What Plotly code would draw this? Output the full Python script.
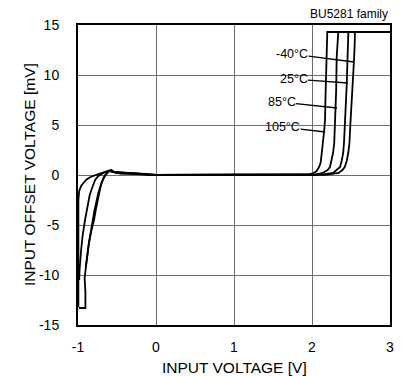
import plotly.graph_objects as go

# ---- data ----
V_105 = [-0.995, -0.995, -0.985, -0.96, -0.93, -0.89, -0.84, -0.78, -0.72, -0.66, -0.6, -0.57, -0.53, -0.45, -0.3, -0.12, -0.1,
         1.85, 1.95, 2.02, 2.06, 2.09, 2.11, 2.125, 2.14, 2.15, 2.16, 2.167, 2.172, 2.18, 2.188, 2.196, 2.196, 3.0]
OFS_105 = [-13.2, -2.5, -1.6, -1.1, -0.8, -0.45, -0.2, 0.0, 0.15, 0.3, 0.45, 0.5, 0.25, 0.15, 0.15, 0.12, 0.0,
           0.0, 0.05, 0.2, 0.4, 0.8, 1.2, 2.2, 3.0, 4.0, 4.8, 5.5, 7.5, 9.5, 11.7, 13.0, 14.3, 14.3]

V_85 = [-0.985, -0.98, -0.96, -0.94, -0.91, -0.88, -0.85, -0.81, -0.78, -0.74, -0.7, -0.65, -0.6, -0.55, 0.0,
        1.9, 2.05, 2.14, 2.2, 2.23, 2.25, 2.27, 2.285, 2.295, 2.3, 2.31, 2.316, 2.325, 2.337, 2.337, 3.0]
OFS_85 = [-10.5, -9.5, -7.5, -6.0, -4.5, -3.2, -2.0, -1.1, -0.5, -0.1, 0.1, 0.3, 0.45, 0.3, 0.0,
          0.0, 0.05, 0.2, 0.5, 0.8, 1.4, 2.2, 3.2, 4.8, 6.0, 8.5, 11.7, 13.0, 13.8, 14.3, 14.3]

V_25 = [-0.99, -0.905, -0.905, -0.915, -0.9, -0.88, -0.86, -0.825, -0.79, -0.74, -0.7, -0.675, -0.62, -0.58, -0.5, 0.0,
        1.95, 2.15, 2.27, 2.32, 2.36, 2.38, 2.4, 2.41, 2.423, 2.43, 2.445, 2.458, 2.466, 2.466, 3.0]
OFS_25 = [-13.3, -13.3, -11.7, -10.3, -9.3, -8.0, -6.8, -5.2, -3.6, -1.8, -0.9, -0.3, 0.3, 0.45, 0.2, 0.0,
          0.0, 0.05, 0.2, 0.5, 0.8, 1.4, 2.2, 3.2, 4.8, 6.5, 9.0, 11.7, 13.5, 14.3, 14.3]

V_M40 = [-0.9, -0.88, -0.86, -0.83, -0.795, -0.77, -0.75, -0.72, -0.7, -0.67, -0.65, -0.6, -0.55, 0.0,
         2.0, 2.2, 2.34, 2.39, 2.42, 2.445, 2.465, 2.48, 2.49, 2.5, 2.515, 2.53, 2.54, 2.548, 2.55, 2.55, 3.0]
OFS_M40 = [-9.2, -8.0, -6.8, -5.6, -4.5, -3.4, -2.5, -1.5, -0.8, -0.3, 0.0, 0.4, 0.3, 0.0,
           0.0, 0.05, 0.2, 0.5, 0.8, 1.4, 2.2, 3.2, 4.8, 6.0, 8.0, 10.0, 11.7, 13.2, 13.8, 14.3, 14.3]

SERIES_NAMES = ["105°C", "85°C", "25°C", "-40°C"]

# label text anchor (data coords) and pointer target on the curve
LABELS = ["-40°C", "25°C", "85°C", "105°C"]
LABEL_X = [1.744, 1.763, 1.609, 1.622]
LABEL_Y = [12.1, 9.6, 7.3, 4.8]
POINT_X = [2.54, 2.46, 2.32, 2.17]
POINT_Y = [11.3, 9.2, 6.7, 4.3]

X_TICKS = [-1, 0, 1, 2, 3]
Y_TICKS = [-15, -10, -5, 0, 5, 10, 15]

X_TITLE = "INPUT VOLTAGE [V]"
Y_TITLE = "INPUT OFFSET VOLTAGE [mV]"
NOTE = "BU5281 family"

FONT = "Liberation Sans, Arial, sans-serif"

fig = go.Figure()
for xs, ys, nm in [(V_105, OFS_105, SERIES_NAMES[0]), (V_85, OFS_85, SERIES_NAMES[1]),
                   (V_25, OFS_25, SERIES_NAMES[2]), (V_M40, OFS_M40, SERIES_NAMES[3])]:
    fig.add_trace(go.Scatter(x=xs, y=ys, mode="lines", name=nm,
                             line=dict(color="black", width=1.8), showlegend=False,
                             cliponaxis=True))

for t, lx, ly, px, py in zip(LABELS, LABEL_X, LABEL_Y, POINT_X, POINT_Y):
    fig.add_annotation(x=px, y=py, ax=lx, ay=ly, axref="x", ayref="y", xref="x", yref="y",
                       text=t, showarrow=True, arrowhead=0, arrowwidth=1.3, arrowcolor="black",
                       font=dict(family=FONT, size=12.5, color="black"), bgcolor="rgba(0,0,0,0)",
                       borderpad=0)

fig.add_annotation(x=1, y=1, xref="paper", yref="paper", xanchor="right", yanchor="bottom",
                   yshift=2, text=NOTE, showarrow=False,
                   font=dict(family=FONT, size=12, color="black"))

# axis titles
fig.add_annotation(x=0.5, y=0, xref="paper", yref="paper", xanchor="center", yanchor="middle",
                   yshift=-42, text=X_TITLE, showarrow=False,
                   font=dict(family=FONT, size=15.5, color="black"))
fig.add_annotation(x=0, y=0.5, xref="paper", yref="paper", xanchor="center", yanchor="middle",
                   xshift=-49, textangle=-90, text=Y_TITLE, showarrow=False,
                   font=dict(family=FONT, size=15.5, color="black"))

fig.update_xaxes(range=[-1, 3], tickvals=X_TICKS, ticktext=[str(v) for v in X_TICKS],
                 showgrid=True, gridcolor="#6e6e6e", gridwidth=1, zeroline=False, automargin=False,
                 showline=True, linecolor="black", linewidth=2, mirror=True,
                 ticks="outside", ticklen=8, tickcolor="rgba(0,0,0,0)",
                 tickfont=dict(family=FONT, size=14, color="black"))
fig.update_yaxes(range=[-15, 15], tickvals=Y_TICKS, ticktext=[str(v) for v in Y_TICKS],
                 showgrid=True, gridcolor="#6e6e6e", gridwidth=1, zeroline=False, automargin=False,
                 showline=True, linecolor="black", linewidth=2, mirror=True,
                 ticks="outside", ticklen=14, tickcolor="rgba(0,0,0,0)",
                 tickfont=dict(family=FONT, size=14, color="black"))

fig.update_layout(width=406, height=376, margin=dict(l=78, r=16, t=25, b=51),
                  plot_bgcolor="white", paper_bgcolor="white")

# remove the page's default 8px body margin so the 406x376 figure fills the window exactly
fig.write_html("out.html", config={"displayModeBar": False},
               post_script="document.body.style.margin='0';")
